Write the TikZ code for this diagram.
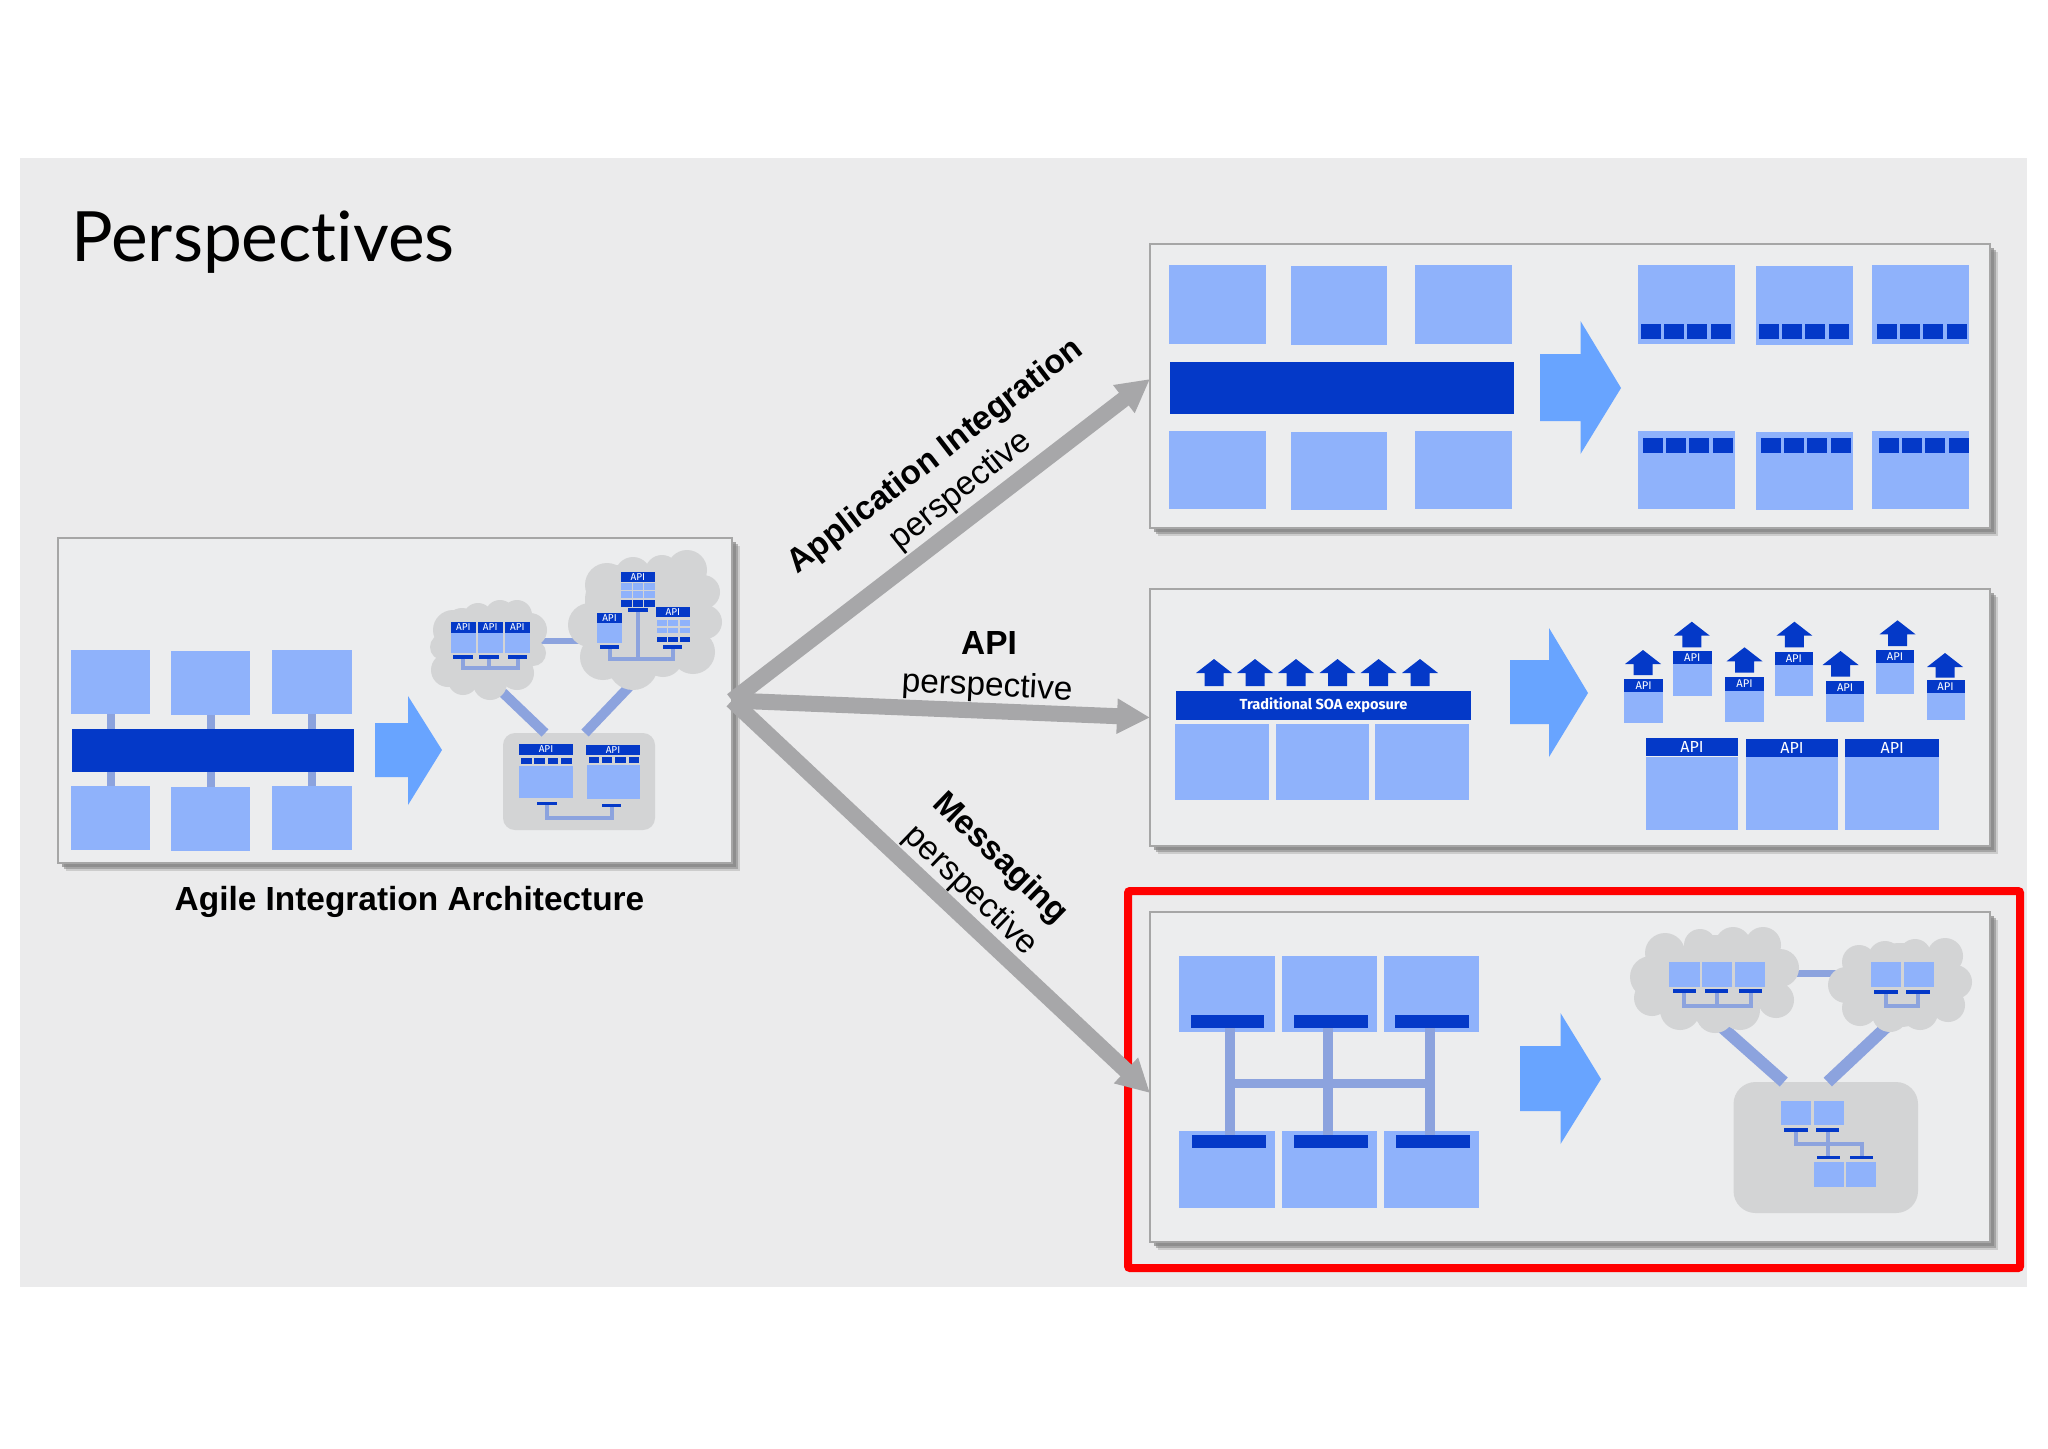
\documentclass[tikz,border=0pt]{standalone}
\usepackage{fontspec}
\setmainfont{Liberation Sans}
\newfontfamily\plexfont{Fira Sans}
\newfontfamily\titlefont{Lato}[Ligatures=NoCommon]
\usetikzlibrary{arrows.meta,shadows}
\definecolor{lightblue}{HTML}{8FB2FB}
\definecolor{darkblue}{HTML}{0439C8}
\definecolor{arrowblue}{HTML}{68A4FF}
\definecolor{wireblue}{HTML}{8CA3DE}
\definecolor{cloudgray}{HTML}{D3D4D5}
\definecolor{panelfill}{HTML}{ECEDEE}
\definecolor{pageback}{HTML}{EBEBEC}
\definecolor{bordergray}{HTML}{A6A6A6}
\definecolor{shadowgray}{HTML}{858585}
\definecolor{biggray}{HTML}{A7A7A9}
\tikzset{
  flat/.style={rectangle,inner sep=0pt,outer sep=0pt,draw=none},
  panel/.style={flat,fill=panelfill,draw=bordergray,line width=1pt,
    general shadow={shadow xshift=4pt,shadow yshift=-4pt,fill=shadowgray,opacity=.3},
    general shadow={shadow xshift=3pt,shadow yshift=-3pt,fill=shadowgray,opacity=.55},
    general shadow={shadow xshift=2pt,shadow yshift=-2pt,fill=shadowgray,opacity=.7}},
  light/.style={flat,fill=lightblue},
  dark/.style={flat,fill=darkblue},
  apismall/.style={dark,text=white,font=\plexfont\fontsize{5}{6}\selectfont},
  apimid/.style={dark,text=white,font=\plexfont\fontsize{5.6}{6}\selectfont},
  apibig/.style={dark,text=white,font=\plexfont\fontsize{8}{9}\selectfont},
  soa/.style={dark,text=white,font=\plexfont\bfseries\fontsize{7.3}{9}\selectfont},
  greybox/.style={flat,fill=cloudgray,rounded corners=#1},
  puffanchor/.style={flat},
  puff/.style={fill=cloudgray,draw=none},
  wire/.style={draw=wireblue,line width=2pt},
  link/.style={draw=wireblue,line width=#1},
  bigarrow/.style={draw=biggray,fill=biggray,line width=8pt,-{Triangle[length=16.5pt,width=16.5pt]}},
  blockarrow/.style={fill=arrowblue,draw=none},
  upblue/.style={fill=darkblue,draw=none},
  redframe/.style={draw=red,line width=4pt,rounded corners=1pt},
  boldlabel/.style={inner sep=0pt,font=\bfseries\fontsize{16.7}{20}\selectfont},
  thinlabel/.style={inner sep=0pt,font=\fontsize{16.7}{20}\selectfont}
}
% style, name, x1, y1, x2, y2, text
\newcommand\bx[7]{\node[#1,minimum width={(#5-#3)*0.5pt},minimum height={(#6-#4)*0.5pt}] (#2) at ({(#3+#5)/2},{(#4+#6)/2}) {#7};}
\newcommand\blockarr[8]{\fill[blockarrow] (#1,#4) -- (#2,#4) -- (#2,#6) -- (#3,#8) -- (#2,#7) -- (#2,#5) -- (#1,#5) -- cycle;}
\newcommand\uparr[3]{\fill[upblue] (#1,#2) -- ({#1+18},{#2+14}) -- ({#1+9.5},{#2+14}) -- ({#1+9.5},#3) -- ({#1-9.5},#3) -- ({#1-9.5},{#2+14}) -- ({#1-18},{#2+14}) -- cycle;}
\newcommand\puffs[1]{\foreach \px/\py/\pr in {#1}{\fill[puff] (\px,\py) circle[radius=\pr];}}
\begin{document}
\begin{tikzpicture}[x=0.5pt,y=-0.5pt]
\useasboundingbox (0,0) rectangle (2048,1448);
\fill[white] (0,0) rectangle (2048,1448);
\fill[pageback] (20,158) rectangle (2027,1287);
\node[anchor=base west,inner sep=0pt,font=\titlefont\fontsize{34.7}{40}\selectfont] (title) at (71,261) {Perspectives};

\draw[redframe] (1128,891) rectangle (2020,1268);

\bx{panel}{agile}{57.5}{538}{732}{863}{}
\bx{panel}{ptop}{1150}{244}{1990}{528}{}
\bx{panel}{pmid}{1150}{589}{1990}{846}{}
\bx{panel}{pmsg}{1150}{912}{1990}{1242}{}

% big connectors
\draw[bigarrow] (agile.east) -- ([yshift=3.5pt]ptop.west);
\draw[bigarrow] (agile.east) -- (pmid.west);
\draw[bigarrow] (agile.east) -- ([yshift=-8pt]pmsg.west);

% labels
\node[boldlabel,rotate=37.7] (lai) at (936,457) {Application Integration};
\node[thinlabel,rotate=38.5] (lai2) at (961,491) {perspective};
\node[boldlabel] (lapi) at (989,643) {API};
\node[thinlabel,rotate=-3] (lapi2) at (987,687) {perspective};
\node[boldlabel,rotate=-44] (lms) at (1000,859) {Messaging};
\node[thinlabel,rotate=-44] (lms2) at (970,891) {perspective};
\node[boldlabel] (lagile) at (409.5,902) {Agile Integration Architecture};

% ---- Agile panel, left
\bx{light}{ab1}{71}{650}{150}{714}{}
\bx{light}{ab2}{171}{651}{250}{715}{}
\bx{light}{ab3}{272}{650}{352}{714}{}
\bx{dark}{abar}{72}{729}{354}{772}{}
\bx{light}{ab4}{71}{786}{150}{850}{}
\bx{light}{ab5}{171}{787}{250}{851}{}
\bx{light}{ab6}{272}{786}{352}{850}{}
\foreach \n in {1,2,3} \draw[link=4pt] (ab\n.south) -- (ab\n.south |- abar.north);
\foreach \n in {4,5,6} \draw[link=4pt] (ab\n.north) -- (ab\n.north |- abar.south);
\blockarr{375}{408}{442}{723}{777}{696}{805}{750}

% ---- Agile panel, right
\bx{puffanchor}{acl1}{430}{600}{547}{700}{}
\bx{puffanchor}{acl2}{568}{550}{722}{690}{}
\bx{greybox=6pt}{arect}{503}{733}{655}{830}{}
\draw[link=3.2pt,shorten <=-8pt,shorten >=-8pt] ([yshift=4.5pt]acl1.east) -- ([yshift=-10.5pt]acl2.west);
\draw[link=5pt,shorten <=-8pt] ([xshift=11pt]acl1.south) -- ([xshift=-17pt]arect.north);
\draw[link=5pt,shorten <=-8pt] ([xshift=-9.5pt]acl2.south) -- ([xshift=3pt]arect.north);
\puffs{453/630/20,443/647/13,448/670/17,463/680/15,490/683/17,517/673/17,533/653/13,530/630/17,517/615/15,500/615/15,478/618/15,462/625/17,488/650/40,470/640/30,510/640/30}
\puffs{607/585/22,633/575/18,662/572/17,687/570/20,703/592/17,705/622/17,693/652/22,663/657/20,633/665/25,603/657/23,590/625/22,643/620/53,620/600/35,670/595/30}
% cloud 1
\bx{light}{a1b1}{450.7}{632}{476}{653}{}
\bx{light}{a1b2}{477.7}{632}{502.7}{653}{}
\bx{light}{a1b3}{504.7}{632}{530}{653}{}
\bx{apismall}{a1h1}{450.7}{622}{476}{632.7}{API}
\bx{apismall}{a1h2}{477.7}{622}{502.7}{632.7}{API}
\bx{apismall}{a1h3}{504.7}{622}{530}{632.7}{API}
\bx{dark}{a1t1}{453}{654.7}{473}{658.7}{}
\bx{dark}{a1t2}{479}{654.7}{499}{658.7}{}
\bx{dark}{a1t3}{508}{654.7}{527}{658.7}{}
\coordinate (a1w) at (a1t2.south |- 0,668);
\draw[wire] (a1t1.south) |- (a1w) -| (a1t3.south);
\draw[wire] (a1t2.south) -- (a1w);
% cloud 2 : top box
\bx{apismall}{a2h1}{620.7}{571.7}{655}{582}{API}
\foreach \xa/\xb in {621/632,632.7/643,644/655}{
  \fill[lightblue] (\xa,583) rectangle (\xb,590);
  \fill[lightblue] (\xa,591) rectangle (\xb,598);
  \fill[darkblue] (\xa,600) rectangle (\xb,606.7);
}
\bx{dark}{a2t1}{628}{608}{648}{612}{}
% cloud 2 : right box
\bx{apismall}{a2h2}{655.7}{606.7}{690}{616.7}{API}
\foreach \xa/\xb in {656.7/666.7,668/678,680/690}{
  \fill[lightblue] (\xa,620) rectangle (\xb,626);
  \fill[lightblue] (\xa,627.7) rectangle (\xb,633.3);
  \fill[darkblue] (\xa,636.7) rectangle (\xb,642.3);
}
\bx{dark}{a2t2}{663}{645}{682}{649}{}
% cloud 2 : left box
\bx{light}{a2b3}{597}{622}{622}{642.7}{}
\bx{apismall}{a2h3}{597}{612.7}{622}{622.7}{API}
\bx{dark}{a2t3}{600}{645}{619}{649}{}
\coordinate (a2w) at (a2t1.south |- 0,659);
\draw[wire] (a2t3.south) |- (a2w) -| (a2t2.south);
\draw[wire] (a2t1.south) -- (a2w);
% grey rectangle
\bx{light}{a3b1}{519}{766}{573}{798}{}
\bx{light}{a3b2}{587}{765}{640}{799}{}
\bx{apismall}{a3h1}{519}{744}{573}{755}{API}
\bx{apismall}{a3h2}{586}{745}{640}{755}{API}
\foreach \xa in {521,534,547.5,561}{\fill[darkblue] (\xa,758) rectangle ({\xa+10.5},764);}
\foreach \xa in {588.5,601.5,615,628.5}{\fill[darkblue] (\xa,757) rectangle ({\xa+10.5},763);}
\bx{dark}{a3t1}{537}{802}{557}{805}{}
\bx{dark}{a3t2}{602}{803.5}{621}{807}{}
\coordinate (a3w) at (a3t1.south |- 0,818);
\draw[wire] (a3t1.south) |- (a3w) -| (a3t2.south);

% ---- Application integration panel
\bx{light}{tb1}{1169}{265}{1265.6}{344}{}
\bx{light}{tb2}{1291}{266}{1387}{345}{}
\bx{light}{tb3}{1415}{265}{1512}{344}{}
\bx{dark}{tbar}{1170}{362}{1513.6}{414}{}
\bx{light}{tb4}{1169}{431}{1265.6}{509}{}
\bx{light}{tb5}{1291}{432}{1387}{510}{}
\bx{light}{tb6}{1415}{431}{1512}{509}{}
\blockarr{1540}{1580.5}{1621}{354}{421}{321}{454}{388}
\bx{light}{tr1}{1637.5}{265}{1734.6}{344}{}
\bx{light}{tr2}{1755.5}{266}{1852.6}{345}{}
\bx{light}{tr3}{1872}{265}{1969.4}{344}{}
\bx{light}{tr4}{1637.5}{431}{1734.6}{509}{}
\bx{light}{tr5}{1755.5}{432}{1852.6}{510}{}
\bx{light}{tr6}{1872}{431}{1969.4}{509}{}
\foreach \xs/\ya/\yb in {1640.5/324/339,1758.5/324/339,1876.5/324/339,1642.5/438/453,1760.5/438/453,1878.5/438/453}{
  \foreach \k in {0,1,2,3}{
    \fill[darkblue] ({\xs+\k*23.4},\ya) rectangle ({\xs+\k*23.4+20},\yb);
  }
}

% ---- API panel
\foreach \cx in {1214,1255,1296,1337.5,1378.6,1420}{\uparr{\cx}{659}{686}}
\bx{soa}{msoa}{1176}{691}{1471}{720}{Traditional SOA exposure}
\bx{light}{mb1}{1175}{724}{1269}{800}{}
\bx{light}{mb2}{1275.5}{724}{1369}{800}{}
\bx{light}{mb3}{1375}{724}{1469}{800}{}
\blockarr{1510}{1549}{1588}{660}{724}{628}{757}{693}
\bx{light}{ms1}{1624.4}{692}{1662.8}{723.3}{}
\bx{apimid}{mh1}{1624.4}{679.3}{1662.8}{692}{API}
\uparr{1643}{650}{675}
\bx{light}{ms2}{1673}{664}{1711.6}{695.7}{}
\bx{apimid}{mh2}{1673}{650.7}{1711.6}{664}{API}
\uparr{1691.8}{621.7}{647.3}
\bx{light}{ms3}{1725.3}{690.7}{1763.7}{721.7}{}
\bx{apimid}{mh3}{1725.3}{676.7}{1763.7}{690.7}{API}
\uparr{1744.5}{647.3}{672.7}
\bx{light}{ms4}{1774.7}{665.3}{1813}{695.7}{}
\bx{apimid}{mh4}{1774.7}{652}{1813}{665.3}{API}
\uparr{1794.4}{621.7}{647.3}
\bx{light}{ms5}{1826.2}{694}{1864}{722.3}{}
\bx{apimid}{mh5}{1826.2}{681.3}{1864}{694}{API}
\uparr{1840.5}{651}{676.7}
\bx{light}{ms6}{1876}{662.7}{1914}{693.7}{}
\bx{apimid}{mh6}{1876}{650}{1914}{662.7}{API}
\uparr{1897.5}{620.3}{646}
\bx{light}{ms7}{1926.6}{693}{1964.5}{720.3}{}
\bx{apimid}{mh7}{1926.6}{680.3}{1964.5}{693}{API}
\uparr{1945}{653}{677.7}
\bx{light}{mB1}{1645.8}{757}{1738}{830}{}
\bx{light}{mB2}{1746}{757}{1838}{830}{}
\bx{light}{mB3}{1845.4}{757}{1939}{830}{}
\bx{apibig}{mH1}{1645.8}{738}{1738}{756}{API}
\bx{apibig}{mH2}{1746}{739}{1838}{757}{API}
\bx{apibig}{mH3}{1845.4}{739}{1939}{757}{API}

% ---- Messaging panel, left
\bx{light}{gt1}{1179}{956}{1274.5}{1032}{}
\bx{light}{gt2}{1281.5}{956}{1377}{1032}{}
\bx{light}{gt3}{1384}{956}{1479}{1032}{}
\bx{light}{gb1}{1179}{1131}{1274.5}{1208}{}
\bx{light}{gb2}{1281.5}{1131}{1377}{1208}{}
\bx{light}{gb3}{1384}{1131}{1479}{1208}{}
\bx{dark}{gtb1}{1190.5}{1015}{1264}{1028}{}
\bx{dark}{gtb2}{1294.4}{1015}{1368}{1028}{}
\bx{dark}{gtb3}{1395}{1015}{1469}{1028}{}
\bx{dark}{gbb1}{1192}{1135}{1266}{1148}{}
\bx{dark}{gbb2}{1294.4}{1135}{1368}{1148}{}
\bx{dark}{gbb3}{1396}{1135}{1470}{1148}{}
\foreach \n/\s in {1/1.5pt,2/-1.5pt,3/-1pt}{
  \coordinate (gv\n) at ([xshift=\s]gtb\n.south);
  \draw[link=5pt] (gv\n) -- (gv\n |- gbb\n.north);
}
\coordinate (gh1) at (gv1 |- 0,1083);
\coordinate (gh3) at (gv3 |- 0,1083);
\draw[link=4.5pt] (gh1) -- (gh3);
\blockarr{1520}{1560.5}{1601}{1046}{1111}{1013}{1144}{1079}

% ---- Messaging panel, right
\bx{puffanchor}{mcl1}{1630}{927}{1799}{1033}{}
\bx{puffanchor}{mcl2}{1828}{938}{1972}{1032}{}
\bx{greybox=11pt}{mrect}{1733.5}{1082}{1918}{1213}{}
\draw[link=3.5pt,shorten <=-8pt,shorten >=-8pt] ([yshift=3.5pt]mcl1.east) -- ([yshift=6pt]mcl2.west);
\draw[link=6pt,shorten <=-8pt] ([xshift=7pt]mcl1.south) -- ([xshift=-21pt]mrect.north);
\draw[link=6pt,shorten <=-8pt] ([xshift=-9.5pt]mcl2.south) -- ([xshift=1pt]mrect.north);
\puffs{1651/977/21,1665/953/20,1700/945/16,1733/945/18,1763/945/18,1780/968/19,1776/1000/18,1740/1010/20,1715/1014/19,1680/1010/20,1652/998/18,1715/980/45,1680/975/28,1750/975/28}
\puffs{1859/962/17,1885/958/17,1915/955/16,1945/956/18,1955/982/17,1948/1005/17,1920/1012/18,1890/1014/18,1860/1008/18,1846/985/18,1900/985/42,1875/980/25,1930/980/25}
\bx{light}{c1b1}{1669}{962}{1700}{987}{}
\bx{light}{c1b2}{1702}{962}{1732}{987}{}
\bx{light}{c1b3}{1735}{962}{1765}{987}{}
\bx{dark}{c1t1}{1672.5}{989}{1696}{993}{}
\bx{dark}{c1t2}{1705}{989}{1728}{993}{}
\bx{dark}{c1t3}{1739}{989}{1762}{993}{}
\coordinate (c1w) at (c1t2.south |- 0,1006);
\draw[wire] (c1t1.south) |- (c1w) -| (c1t3.south);
\draw[wire] (c1t2.south) -- (c1w);
\bx{light}{c2b1}{1871.4}{962}{1901}{987}{}
\bx{light}{c2b2}{1903.7}{962}{1933.7}{987}{}
\bx{dark}{c2t1}{1874}{990}{1898}{994}{}
\bx{dark}{c2t2}{1906}{990}{1929.5}{994}{}
\coordinate (c2w) at (c2t1.south |- 0,1006);
\draw[wire] (c2t1.south) |- (c2w) -| (c2t2.south);
\bx{light}{c3b1}{1781}{1101}{1811}{1125}{}
\bx{light}{c3b2}{1814}{1101}{1844}{1125}{}
\bx{dark}{c3t1}{1784}{1128}{1807.5}{1132}{}
\bx{dark}{c3t2}{1816}{1128}{1839}{1132}{}
\bx{light}{c3b3}{1814}{1162}{1844}{1187}{}
\bx{light}{c3b4}{1846}{1162}{1875.5}{1187}{}
\bx{dark}{c3t3}{1817}{1156}{1840}{1159}{}
\bx{dark}{c3t4}{1850}{1156}{1873}{1159}{}
\coordinate (c3w) at (c3t2.south |- 0,1144);
\draw[wire] (c3t1.south) |- (c3w) -| (c3t4.north);
\draw[wire] (c3t2.south) -- (c3t2.south |- c3t3.north);
\end{tikzpicture}
\end{document}
